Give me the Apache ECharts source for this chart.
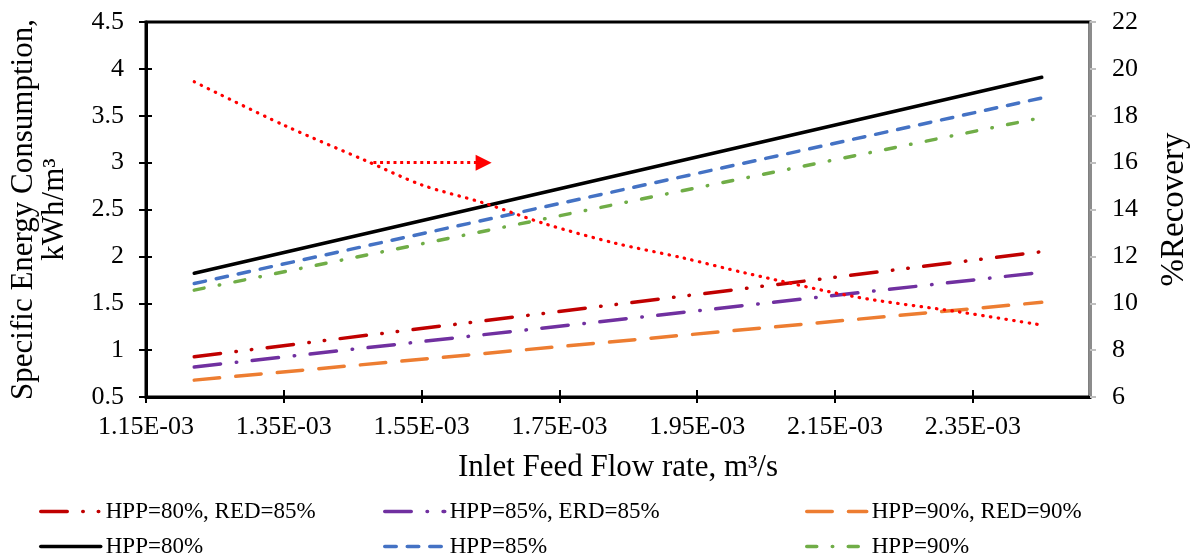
<!DOCTYPE html>
<html>
<head>
<meta charset="utf-8">
<script src="https://cdn.jsdelivr.net/npm/echarts@6/dist/echarts.min.js"></script>
<style>
  html, body { margin: 0; padding: 0; background: #fff; }
  #chart { width: 1199px; height: 559px; }
</style>
</head>
<body>
<div id="chart"></div>
<script>
// feed flow (m3/s) at the two ends of the straight SEC lines
const flowEnds = [1.22e-3, 2.45e-3];

// specific energy consumption, kWh/m3 (left axis)
const secHpp80Red85 = [0.93, 2.05];
const secHpp85Erd85 = [0.82, 1.83];
const secHpp90Red90 = [0.68, 1.51];
const secHpp80 = [1.82, 3.91];
const secHpp85 = [1.71, 3.69];
const secHpp90 = [1.64, 3.48];

// recovery curve (right axis)
const flowRecovery = [1.22e-3, 1.35e-3, 1.47e-3, 1.55e-3, 1.64e-3, 1.73e-3, 1.83e-3, 1.93e-3, 2.02e-3, 2.18e-3, 2.33e-3, 2.45e-3];
const recovery = [19.45, 17.6, 16.07, 15.05, 14.28, 13.38, 12.57, 11.93, 11.29, 10.27, 9.63, 9.07];

// arrow pointing at the recovery axis
const arrowFrom = [1.48e-3, 16];
const arrowTo = [1.64e-3, 16];

const xTicks = [1.15e-3, 1.35e-3, 1.55e-3, 1.75e-3, 1.95e-3, 2.15e-3, 2.35e-3];

const FONT = 'Liberation Serif';

function sciLabel(v) {
  const parts = v.toExponential(2).split('e');
  const n = parseInt(parts[1], 10);
  return parts[0] + 'E' + (n < 0 ? '-' : '+') + String(Math.abs(n)).padStart(2, '0');
}

function pairs(xs, ys) {
  return ys.map((y, i) => [xs[i], y]);
}

function lineSeries(name, ys, color, type) {
  return {
    name: name,
    type: 'line',
    xAxisIndex: 0,
    yAxisIndex: 0,
    data: pairs(flowEnds, ys),
    symbol: 'none',
    showSymbol: false,
    lineStyle: { color: color, width: 3.5, type: type, cap: 'round' },
    itemStyle: { color: color }
  };
}

const chart = echarts.init(document.getElementById('chart'));

// one vertical legend per column, two rows each
const legendBase = {
  orient: 'vertical',
  top: 500,
  height: 80,
  padding: 0,
  itemWidth: 60,
  itemHeight: 14,
  itemGap: 12,
  itemStyle: { opacity: 0, borderWidth: 0 },
  lineStyle: { width: 3.5 },
  textStyle: { fontFamily: FONT, fontSize: 23, color: '#000' }
};

chart.setOption({
  animation: false,
  grid: {
    left: 141, right: 104, top: 22, bottom: 162,
    show: true, borderColor: '#000', borderWidth: 3
  },
  legend: [
    Object.assign({}, legendBase, { left: 39, data: ['HPP=80%, RED=85%', 'HPP=80%'] }),
    Object.assign({}, legendBase, { left: 383, data: ['HPP=85%, ERD=85%', 'HPP=85%'] }),
    Object.assign({}, legendBase, { left: 805, data: ['HPP=90%, RED=90%', 'HPP=90%'] })
  ],
  xAxis: [{
    type: 'value',
    min: 1.15e-3,
    max: 2.52e-3,
    name: 'Inlet Feed Flow rate, m³/s',
    nameLocation: 'middle',
    nameGap: 55,
    nameTextStyle: { fontFamily: FONT, fontSize: 31, color: '#000' },
    axisLine: { lineStyle: { color: '#000', width: 3 } },
    axisTick: { show: true, length: 6, lineStyle: { color: '#000', width: 2 }, customValues: xTicks },
    axisLabel: { fontFamily: FONT, fontSize: 26, color: '#000', margin: 17, customValues: xTicks, formatter: sciLabel },
    splitLine: { show: false }
  }, {
    type: 'value',
    min: 1.15e-3,
    max: 2.52e-3,
    position: 'bottom',
    axisLine: { show: false },
    axisTick: { show: true, inside: true, length: 7, lineStyle: { color: '#000', width: 2 }, customValues: xTicks },
    axisLabel: { show: false },
    splitLine: { show: false }
  }],
  yAxis: [{
    type: 'value',
    position: 'left',
    min: 0.5, max: 4.5, interval: 0.5,
    name: 'Specific Energy Consumption,\nkWh/m³',
    nameLocation: 'middle',
    nameGap: 76,
    nameRotate: 90,
    nameTextStyle: { fontFamily: FONT, fontSize: 31, color: '#000', lineHeight: 31, align: 'center' },
    axisLine: { show: true, lineStyle: { color: '#000', width: 3 } },
    axisTick: { show: true, length: 7, lineStyle: { color: '#000', width: 2 } },
    axisLabel: { fontFamily: FONT, fontSize: 26, color: '#000', margin: 22 },
    splitLine: { show: false }
  }, {
    type: 'value',
    position: 'right',
    min: 6, max: 22, interval: 2,
    name: '%Recovery',
    nameLocation: 'middle',
    nameGap: 68,
    nameRotate: 90,
    nameTextStyle: { fontFamily: FONT, fontSize: 33, color: '#000' },
    axisLine: { show: true, lineStyle: { color: '#8c8c8c', width: 3 } },
    axisTick: { show: true, length: 6, lineStyle: { color: '#bfbfbf', width: 2 } },
    axisLabel: { fontFamily: FONT, fontSize: 26, color: '#000', margin: 22 },
    splitLine: { show: false }
  }, {
    type: 'value',
    position: 'left',
    min: 0.5, max: 4.5, interval: 0.5,
    axisLine: { show: false },
    axisTick: { show: true, inside: true, length: 6, lineStyle: { color: '#000', width: 2 } },
    axisLabel: { show: false },
    splitLine: { show: false }
  }],
  series: [
    lineSeries('HPP=80%, RED=85%', secHpp80Red85, '#C00000', [26.5, 15.5, 0.5, 15, 0.5, 15.5]),
    lineSeries('HPP=85%, ERD=85%', secHpp85Erd85, '#7030A0', [26.5, 15.8, 0.5, 15.5]),
    lineSeries('HPP=90%, RED=90%', secHpp90Red90, '#ED7D31', [25.5, 16.2]),
    lineSeries('HPP=80%', secHpp80, '#000000', 'solid'),
    lineSeries('HPP=85%', secHpp85, '#4472C4', [11.5, 11]),
    lineSeries('HPP=90%', secHpp90, '#70AD47', [10, 15.5, 0.5, 15.5]),
    {
      name: 'Recovery',
      type: 'line',
      xAxisIndex: 0,
      yAxisIndex: 1,
      data: pairs(flowRecovery, recovery),
      smooth: 0.3,
      symbol: 'none',
      showSymbol: false,
      lineStyle: { color: '#FF0000', width: 3.2, type: [0.5, 7.3], cap: 'round' },
      markLine: {
        silent: true,
        symbol: ['none', 'triangle'],
        symbolSize: [16, 16],
        label: { show: false },
        lineStyle: { color: '#FF0000', width: 3.2, type: [3, 3.7] },
        data: [[{ coord: arrowFrom }, { coord: arrowTo }]]
      }
    }
  ]
});
</script>
</body>
</html>
